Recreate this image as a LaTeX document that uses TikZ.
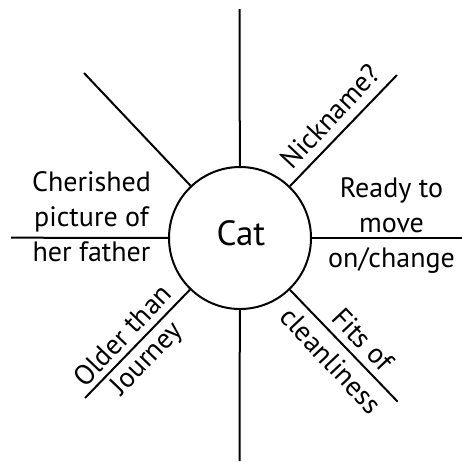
\documentclass[tikz,border=0pt]{standalone}
\usepackage{fontspec}
\setmainfont{PT Sans}
\begin{document}
\begin{tikzpicture}[x=1pt,y=-1pt,line width=2pt,
  hub/.style={circle,draw,minimum size=142pt,inner sep=0pt},
  lbl/.style={font=\fontsize{28}{33}\selectfont,inner sep=0pt,anchor=base},
  hubtext/.style={font=\fontsize{35}{40}\selectfont,inner sep=0pt,anchor=base}]
\useasboundingbox (0,0) rectangle (462,461);
\node[hub] (cat) at (240,238) {};
\node[hubtext] (cattxt) at (241,245.5) {Cat};
\coordinate (top) at (239.5,9);
\coordinate (bot) at (239.5,461);
\coordinate (lft) at (11,237.7);
\coordinate (rgt) at (462,238);
\coordinate (ul) at (84,73);
\coordinate (ur) at (397,75);
\coordinate (ll) at (85,398);
\coordinate (lr) at (397.7,401.7);
\foreach \e in {top,bot,lft,rgt,ul,ur,ll,lr} \draw (cat) -- (\e);
% left label
\node[lbl] (l1) at (91.5,191.7) {Cherished};
\node[lbl] (l2) at (91.5,226.7) {picture of};
\node[lbl] (l3) at (91.5,261) {her father};
% right label
\node[lbl] (r1) at (391.5,197) {Ready to};
\node[lbl] (r2) at (391.5,232) {move};
\node[lbl] (r3) at (391.5,267) {on/change};
% diagonal labels
\node[lbl,rotate=46.7] (nick) at (337.2,122.8) {Nickname?};
\node[lbl,rotate=46.3] (old1) at (129.2,342) {Older than};
\node[lbl,rotate=46.3] (old2) at (152.6,364.2) {Journey};
\node[lbl,rotate=-46.7] (fit1) at (355.7,346.1) {Fits of};
\node[lbl,rotate=-46.7] (fit2) at (324,367.2) {cleanliness};
\end{tikzpicture}
\end{document}
